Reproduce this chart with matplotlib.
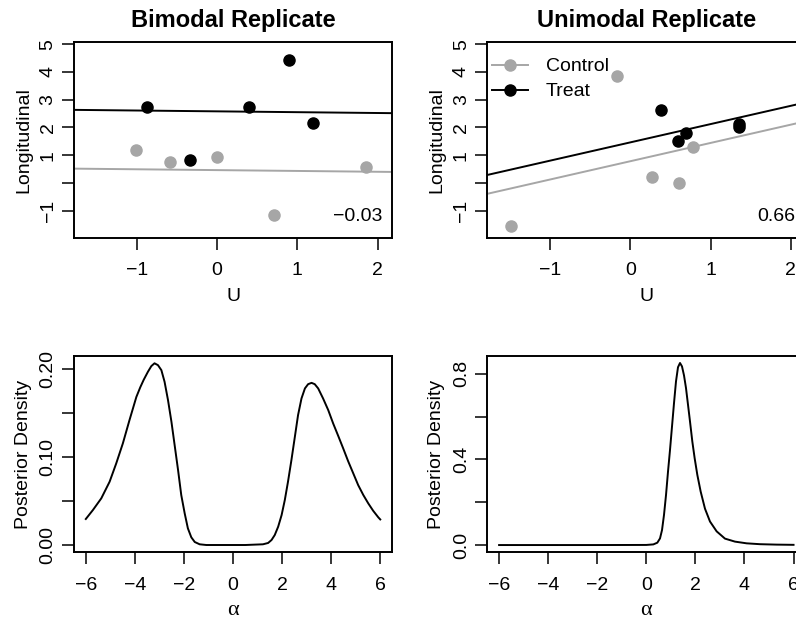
import matplotlib.pyplot as plt

plt.rcParams['font.family'] = ['Liberation Sans', 'DejaVu Sans']
plt.rcParams['font.size'] = 14

GRAY = '#a6a6a6'

# Bimodal replicate: U vs longitudinal outcome
bi_ctrl_u = [-1.01, -0.58, 0.0, 0.71, 1.85]
bi_ctrl_y = [1.19, 0.76, 0.94, -1.16, 0.58]
bi_treat_u = [-0.875, -0.33, 0.40, 0.90, 1.19]
bi_treat_y = [2.72, 0.81, 2.72, 4.42, 2.15]
bi_slope = -0.03
bi_ctrl_int = 0.46
bi_treat_int = 2.58

# Unimodal replicate
uni_ctrl_u = [-1.49, -0.16, 0.27, 0.61, 0.78]
uni_ctrl_y = [-1.56, 3.86, 0.22, -0.01, 1.31]
uni_treat_u = [0.38, 0.59, 0.70, 1.36, 1.36]
uni_treat_y = [2.62, 1.52, 1.81, 2.13, 2.03]
uni_slope = 0.66
uni_ctrl_int = 0.78
uni_treat_int = 1.46

# posterior density of alpha, bimodal case
bi_alpha = [-6.0, -5.71, -5.37, -5.03, -4.76, -4.49, -4.22, -3.94, -3.78, -3.64, -3.47,
            -3.33, -3.20, -3.06, -2.92, -2.79, -2.65,
            -2.51, -2.38, -2.24, -2.11, -1.97, -1.84, -1.70, -1.56, -1.36, -1.09,
            -0.5, 0.0, 0.5, 1.22, 1.43, 1.57, 1.70, 1.84, 1.98, 2.11,
            2.24, 2.38, 2.52, 2.65, 2.79, 2.93, 3.06, 3.20, 3.33, 3.47,
            3.67, 3.88, 4.08, 4.29, 4.49, 4.69, 4.90, 5.10, 5.31, 5.51,
            5.71, 5.92, 6.0]
bi_dens = [0.0295, 0.0397, 0.0529, 0.0718, 0.0926, 0.1153, 0.1417, 0.1680, 0.1790, 0.1875, 0.1965,
           0.2030, 0.2062, 0.2041, 0.1984, 0.1852, 0.1644,
           0.1398, 0.1134, 0.0850, 0.0567, 0.0359, 0.0189, 0.0087, 0.0034, 0.0008, 0.0,
           0.0, 0.0, 0.0, 0.0008, 0.0023, 0.0057, 0.0113, 0.0208, 0.0340, 0.0510,
           0.0718, 0.0964, 0.1228, 0.1474, 0.1663, 0.1777, 0.1825, 0.1840, 0.1825, 0.1777,
           0.1663, 0.1531, 0.1380, 0.1236, 0.1096, 0.0952, 0.0813, 0.0680, 0.0567, 0.0473,
           0.0389, 0.0314, 0.0290]

# posterior density of alpha, unimodal case
uni_alpha = [-6.0, -2.0, 0.0, 0.286, 0.449, 0.558, 0.640, 0.721, 0.803, 0.884,
             0.966, 1.047, 1.129, 1.210, 1.291, 1.373, 1.454, 1.536, 1.617, 1.699,
             1.780, 1.875, 1.970, 2.079, 2.215, 2.391, 2.595, 2.866, 3.206, 3.613,
             4.088, 4.631, 5.3, 6.0]
uni_dens = [0.0, 0.0, 0.0005, 0.003, 0.011, 0.031, 0.070, 0.141, 0.234, 0.343,
            0.445, 0.554, 0.664, 0.765, 0.831, 0.851, 0.835, 0.793, 0.734, 0.656,
            0.578, 0.484, 0.406, 0.328, 0.250, 0.170, 0.110, 0.064, 0.030, 0.016,
            0.008, 0.004, 0.002, 0.001]

fig = plt.figure(figsize=(7.96, 6.21), dpi=100)
ax_bi = fig.add_axes([0.0930, 0.6167, 0.3995, 0.3156])
ax_uni = fig.add_axes([0.6122, 0.6167, 0.3995, 0.3156])
ax_bd = fig.add_axes([0.0930, 0.1106, 0.3995, 0.3166])
ax_ud = fig.add_axes([0.6122, 0.1106, 0.3995, 0.3166])


def style(ax):
    for s in ax.spines.values():
        s.set_linewidth(1.4)
    ax.tick_params(direction='out', length=8.5, width=1.1, labelsize=14)
    ax.tick_params(axis='x', pad=9)
    ax.tick_params(axis='y', pad=4)


def scatter_panel(ax, cu, cy, tu, ty, slope, c_int, t_int, title, note):
    ax.axline((0, c_int), slope=slope, color=GRAY, lw=1.4, zorder=2)
    ax.axline((0, t_int), slope=slope, color='black', lw=1.4, zorder=2)
    ax.plot(cu, cy, 'o', color=GRAY, ms=8, zorder=3)
    ax.plot(tu, ty, 'o', color='black', ms=8, zorder=3)
    ax.set_xlim(-1.78, 2.18)
    ax.set_ylim(-1.99, 5.08)
    ax.set_xticks([-1, 0, 1, 2])
    ax.set_xticklabels(['\u22121', '0', '1', '2'])
    ax.set_yticks([-1, 0, 1, 2, 3, 4, 5])
    ax.set_yticklabels(['\u22121', '', '1', '2', '3', '4', '5'], rotation=90, va='center')
    ax.set_title(title, fontsize=17, fontweight='bold', pad=11)
    ax.set_xlabel('U', va='center')
    ax.xaxis.set_label_coords(0.5, -0.296)
    ax.set_ylabel('Longitudinal', va='center')
    ax.yaxis.set_label_coords(-0.159, 0.5)
    ax.text(0.969, 0.112, note, transform=ax.transAxes, ha='right', va='center', fontsize=14)
    style(ax)


scatter_panel(ax_bi, bi_ctrl_u, bi_ctrl_y, bi_treat_u, bi_treat_y,
              bi_slope, bi_ctrl_int, bi_treat_int, 'Bimodal Replicate', '\u22120.03')
scatter_panel(ax_uni, uni_ctrl_u, uni_ctrl_y, uni_treat_u, uni_treat_y,
              uni_slope, uni_ctrl_int, uni_treat_int, 'Unimodal Replicate', '0.66')

h_c, = ax_uni.plot([], [], '-o', color=GRAY, ms=8, lw=1.4)
h_t, = ax_uni.plot([], [], '-o', color='black', ms=8, lw=1.4)
ax_uni.legend([h_c, h_t], ['Control', 'Treat'], loc='upper left',
              bbox_to_anchor=(0.015, 0.92), frameon=False, borderpad=0,
              borderaxespad=0, handlelength=1.85, handletextpad=0.9,
              labelspacing=0.38, fontsize=14)


def density_panel(ax, a, d, ylim, yticks, ylabels):
    ax.plot(a, d, color='black', lw=1.4)
    ax.set_xlim(-6.48, 6.48)
    ax.set_ylim(*ylim)
    ax.set_xticks([-6, -4, -2, 0, 2, 4, 6])
    ax.set_xticklabels(['\u22126', '\u22124', '\u22122', '0', '2', '4', '6'])
    ax.set_yticks(yticks)
    ax.set_yticklabels(ylabels, rotation=90, va='center')
    ax.set_xlabel('\u03b1', family='Liberation Serif', fontsize=16, va='center')
    ax.xaxis.set_label_coords(0.5, -0.295)
    ax.set_ylabel('Posterior Density', va='center')
    ax.yaxis.set_label_coords(-0.159, 0.5)
    style(ax)


density_panel(ax_bd, bi_alpha, bi_dens, (-0.0083, 0.2148),
              [0.0, 0.05, 0.10, 0.15, 0.20], ['0.00', '', '0.10', '', '0.20'])
density_panel(ax_ud, uni_alpha, uni_dens, (-0.034, 0.885),
              [0.0, 0.2, 0.4, 0.6, 0.8], ['0.0', '', '0.4', '', '0.8'])

fig.savefig('out.png', dpi=100)
